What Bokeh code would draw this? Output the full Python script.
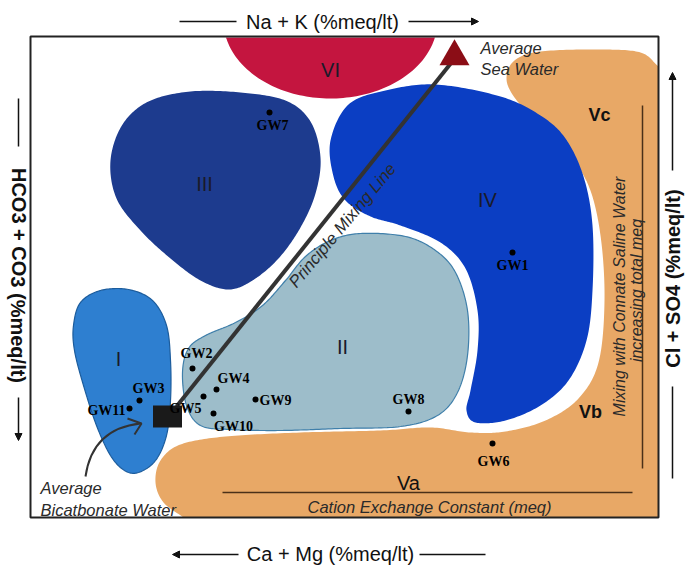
import numpy as np
from bokeh.plotting import figure
from bokeh.models import Range1d, Arrow, NormalHead
from bokeh.core.properties import value
from bokeh.embed import file_html
from bokeh.resources import INLINE

# ---------------- data (diagram coordinates, reference pixel space) ----------------
# water-type zones: outline control points
zone_I_x = [73, 80, 100, 128, 152, 166, 170, 170, 166, 155, 138, 124, 110, 96, 83, 74]
zone_I_y = [325, 302, 290, 289, 300, 325, 360, 400, 435, 460, 472, 470, 455, 425, 385, 350]

zone_II_x = [182, 188, 205, 235, 262, 285, 305, 330, 360, 405, 435, 455, 467, 467, 457, 437, 400, 340, 280, 230, 200, 186]
zone_II_y = [372, 348, 335, 322, 305, 280, 256, 240, 233, 236, 250, 272, 310, 355, 392, 415, 426, 428, 430, 429, 425, 405]

zone_III_x = [110, 122, 148, 190, 240, 285, 310, 320, 315, 300, 278, 252, 228, 200, 170, 140, 116]
zone_III_y = [160, 124, 101, 91, 92, 100, 121, 157, 193, 227, 258, 280, 289, 280, 258, 230, 198]

zone_IV_x = [435, 500, 540, 565, 583, 592, 592, 586, 568, 540, 505, 475, 466, 470, 477, 477, 465, 440, 400, 370, 345, 333, 330, 348, 385]
zone_IV_y = [84, 96, 115, 138, 176, 225, 290, 340, 380, 405, 420, 422, 410, 390, 350, 310, 268, 242, 225, 216, 200, 176, 140, 104, 90]

zone_V_x = [183, 163, 155, 160, 180, 225, 300, 380, 430, 470, 505, 545, 578, 598, 604, 600, 588, 565, 535, 514, 506, 514, 540, 600, 640, 658]
zone_V_y = [517, 502, 482, 460, 444, 436, 432, 430, 427, 432, 431, 420, 398, 362, 300, 235, 185, 150, 120, 97, 78, 60, 51, 49, 52, 66]

zone_VI_center = (330, 20)
zone_VI_radii = (107, 78)

zone_labels = ["I", "II", "III", "IV", "VI"]
zone_label_x = [118, 342, 204, 487, 330]
zone_label_y = [358, 346, 183, 199, 69]

# sample points
gw_names = ["GW1", "GW2", "GW3", "GW4", "GW5", "GW6", "GW7", "GW8", "GW9", "GW10", "GW11"]
gw_x = [512, 192, 139, 216, 203, 492, 269, 408, 255, 213, 129]
gw_y = [252, 368, 400, 389, 396, 443, 112, 411, 399, 413, 408]

# end members
bicarbonate_pt = (167, 416)
seawater_pt = (454, 56)

# frame
frame_left, frame_right, frame_top, frame_bottom = 30, 658, 36, 517

# ---------------- helpers ----------------
def _cr(p0, p1, p2, p3, t):
    return 0.5 * (2 * p1 + (p2 - p0) * t + (2 * p0 - 5 * p1 + 4 * p2 - p3) * t ** 2
                  + (3 * p1 - p0 - 3 * p2 + p3) * t ** 3)


def smooth_closed(px, py, n=20):
    P = np.column_stack([px, py]).astype(float)
    N = len(P)
    t = np.linspace(0, 1, n, endpoint=False)[:, None]
    segs = [_cr(P[(i - 1) % N], P[i], P[(i + 1) % N], P[(i + 2) % N], t) for i in range(N)]
    S = np.vstack(segs)
    return S[:, 0], S[:, 1]


def smooth_open(px, py, n=20):
    P = np.column_stack([px, py]).astype(float)
    P = np.vstack([2 * P[0] - P[1], P, 2 * P[-1] - P[-2]])
    t = np.linspace(0, 1, n, endpoint=False)[:, None]
    segs = [_cr(P[i - 1], P[i], P[i + 1], P[i + 2], t) for i in range(1, len(P) - 2)]
    segs.append(P[-2][None, :])
    S = np.vstack(segs)
    return S[:, 0], S[:, 1]


W, H = 685, 568
p = figure(width=W, height=H, x_range=Range1d(0, W), y_range=Range1d(H, 0),
           output_backend="svg", toolbar_location=None, min_border=0,
           x_axis_location=None, y_axis_location=None, background_fill_color="white",
           border_fill_color="white", outline_line_color=None)
p.xgrid.visible = False
p.ygrid.visible = False

# zone V (tan, clipped by frame)
vx, vy = smooth_open(zone_V_x, zone_V_y)
vx = np.clip(np.append(vx, [frame_right, frame_right]), frame_left, frame_right)
vy = np.clip(np.append(vy, [frame_bottom, frame_bottom]), frame_top, frame_bottom)
p.patch(vx, vy, fill_color="#E8A866", line_color=None)

# zone I
x, y = smooth_closed(zone_I_x, zone_I_y)
p.patch(x, y, fill_color="#2E7FD0", line_color="#1C5C9C", line_width=1.2)
# zone II
x, y = smooth_closed(zone_II_x, zone_II_y)
p.patch(x, y, fill_color="#9DBDCA", line_color="#3F7FAA", line_width=1.2)
# zone III
x, y = smooth_closed(zone_III_x, zone_III_y)
p.patch(x, y, fill_color="#1D3B8E", line_color=None)
# zone IV
x, y = smooth_closed(zone_IV_x, zone_IV_y)
p.patch(x, y, fill_color="#0B3EC3", line_color=None)
# zone VI
th = np.linspace(0, 2 * np.pi, 200)
x6 = zone_VI_center[0] + zone_VI_radii[0] * np.cos(th)
y6 = np.clip(zone_VI_center[1] + zone_VI_radii[1] * np.sin(th), frame_top + 1, None)
p.patch(x6, y6, fill_color="#C4153F", line_color=None)

# frame
p.quad(left=frame_left, right=frame_right, top=frame_top, bottom=frame_bottom,
       fill_color=None, line_color="#222222", line_width=2)

# brown guide lines in zone V
p.line([222, 632], [492, 492], line_color="#4A3018", line_width=1.5)
p.line([642, 642], [105, 468], line_color="#4A3018", line_width=1.5)

# principal mixing line
p.line([bicarbonate_pt[0] + 9, seawater_pt[0] - 3], [bicarbonate_pt[1] - 10, seawater_pt[1] + 6],
       line_color="#333333", line_width=4)
p.rect(x=[bicarbonate_pt[0]], y=[bicarbonate_pt[1]], width=29, height=22,
       fill_color="#1A1A1A", line_color=None)
p.scatter(x=[seawater_pt[0]], y=[seawater_pt[1]], marker="triangle", size=30,
          fill_color="#8B0D16", line_color=None)

# curved arrow to average bicarbonate water
p.quadratic(x0=[85], y0=[476], x1=[140], y1=[423], cx=[92], cy=[428],
            line_color="#333333", line_width=2)
p.multi_line([[127, 141, 134]], [[418, 423, 434]], line_color="#333333", line_width=2)

# sample points
p.scatter(gw_x, gw_y, size=6, fill_color="black", line_color=None)
gw_lab_dx = [0, 4, 9, 17, -18, 1, 3, 0, 4, 20, -4]
gw_lab_dy = [13, -15, -12, -11, 12, 18, 13, -12, 1, 13, 2]
gw_lab_align = ["center", "center", "center", "center", "center", "center", "center",
                "center", "left", "center", "right"]
for nm, gx, gy, dx, dy, al in zip(gw_names, gw_x, gw_y, gw_lab_dx, gw_lab_dy, gw_lab_align):
    p.text(x=[gx + dx], y=[gy + dy], text=[nm], text_font=value("Liberation Serif"),
           text_font_style="bold", text_font_size="14px", text_color="black",
           text_align=al, text_baseline="middle")

# zone labels
p.text(x=zone_label_x, y=zone_label_y, text=zone_labels, text_font=value("Liberation Sans"),
       text_font_size="20px", text_color="#1A1A2A", text_align="center", text_baseline="middle")
p.text(x=[408], y=[482], text=["Va"], text_font=value("Liberation Sans"), text_font_size="20px",
       text_color="#111111", text_align="center", text_baseline="middle")
p.text(x=[590, 599], y=[411, 114], text=["Vb", "Vc"], text_font=value("Liberation Sans"),
       text_font_style="bold", text_font_size="18px", text_color="#111111",
       text_align="center", text_baseline="middle")

# annotation texts
ital = dict(text_font=value("Liberation Sans"), text_font_style="italic", text_color="#2A2A2A",
            text_baseline="middle")
p.text(x=[480, 480], y=[47, 68], text=["Average", "Sea Water"], text_font_size="16.5px",
       text_align="left", **ital)
p.text(x=[40, 40], y=[487, 509], text=["Average", "Bicatbonate Water"], text_font_size="16.5px",
       text_align="left", **ital)
p.text(x=[429], y=[506], text=["Cation Exchange Constant (meq)"], text_font_size="16.5px",
       text_align="center", **ital)
p.text(x=[342], y=[225], text=["Principle Mixing Line"], text_font_size="17px",
       text_align="center", angle=[np.deg2rad(50)], **ital)
p.text(x=[619, 636], y=[296, 290], text=["Mixing with Connate Saline Water", "increasing total meq"],
       text_font_size="16px", text_align="center", angle=[np.pi / 2, np.pi / 2], **ital)

# outer axis titles
plain = dict(text_font=value("Liberation Sans"), text_font_size="20px", text_color="#111111",
             text_align="center", text_baseline="middle")
p.text(x=[322], y=[21], text=["Na + K (%meq/lt)"], **plain)
p.text(x=[330], y=[553], text=["Ca + Mg (%meq/lt)"], **plain)
bold = dict(text_font=value("Liberation Sans"), text_font_style="bold", text_font_size="20px",
            text_color="#111111", text_align="center", text_baseline="middle")
p.text(x=[18], y=[275], text=["HCO3 + CO3 (%meq/lt)"], angle=[-np.pi / 2], **bold)
p.text(x=[672], y=[278], text=["Cl + SO4 (%meq/lt)"], angle=[np.pi / 2], **bold)

# arrows / lines around the axis titles
head = dict(line_width=1.5, line_color="#111111")
p.line([179, 236], [21, 21], **head)
p.add_layout(Arrow(x_start=408, y_start=21, x_end=478, y_end=21,
                   end=NormalHead(size=7, fill_color="#111111", line_color="#111111"), **head))
p.add_layout(Arrow(x_start=238, y_start=554, x_end=172, y_end=554,
                   end=NormalHead(size=7, fill_color="#111111", line_color="#111111"), **head))
p.line([419, 485], [554, 554], **head)
p.line([18, 18], [98, 146], **head)
p.add_layout(Arrow(x_start=18, y_start=397, x_end=18, y_end=440,
                   end=NormalHead(size=7, fill_color="#111111", line_color="#111111"), **head))
p.add_layout(Arrow(x_start=672, y_start=170, x_end=672, y_end=72,
                   end=NormalHead(size=7, fill_color="#111111", line_color="#111111"), **head))
p.line([672, 672], [386, 478], **head)

open("out.html", "w").write(file_html(p, INLINE))
